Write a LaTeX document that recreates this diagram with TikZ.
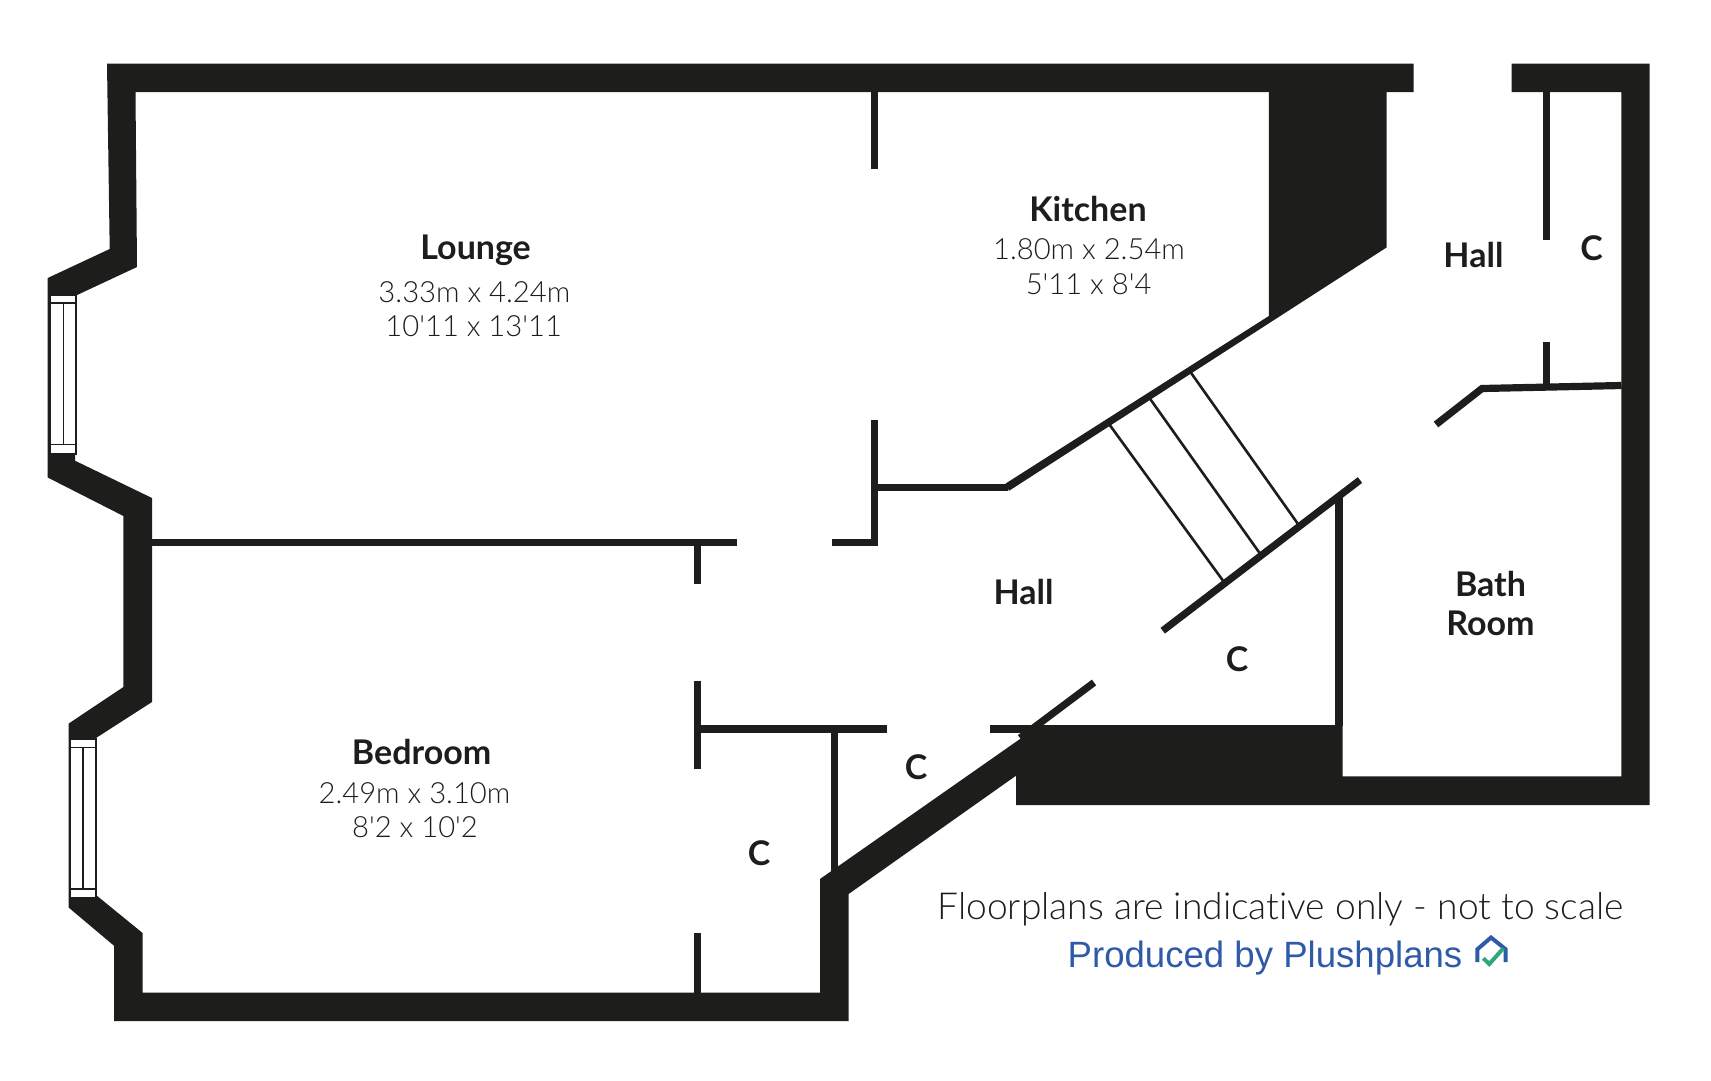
\documentclass[tikz,border=0pt]{standalone}
\usepackage{fontspec}
\setmainfont{Lato}
\newfontfamily\lightfont[Ligatures=NoCommon]{Lato Light}
\newfontfamily\logofont{Liberation Sans}
\definecolor{wallink}{HTML}{1D1D1B}
\definecolor{logoblue}{HTML}{2F5AA8}
\definecolor{logogreen}{HTML}{2FA67E}
\tikzset{
  roomname/.style={anchor=base,inner sep=0pt,yshift=-1.2pt,text=wallink,font=\bfseries\fontsize{34}{34}\selectfont},
  roomsize/.style={anchor=base,inner sep=0pt,yshift=-0.5pt,text=wallink,font=\lightfont\fontsize{29.2}{30}\selectfont},
  noteline/.style={anchor=base,inner sep=0pt,yshift=-1pt,text=wallink,font=\lightfont\fontsize{37.2}{38}\selectfont},
  logoline/.style={anchor=base,inner sep=0pt,yshift=-1pt,text=logoblue,font=\logofont\fontsize{36.6}{37}\selectfont},
  wallfill/.style={fill=wallink,draw=none},
  thinwall/.style={draw=wallink,line width=7.2pt,line join=miter},
  stairline/.style={draw=wallink,line width=2.6pt},
  winframe/.style={draw=wallink,fill=white,line width=1.9pt},
  winline/.style={draw=wallink,line width=1.9pt}
}
\begin{document}
\begin{tikzpicture}[x=1pt,y=-1pt]
  \useasboundingbox (0,0) rectangle (1711,1080);
  % outer walls
  \fill[wallfill] (1511.7,63.6) -- (1649.5,63.6) -- (1649.5,805) -- (1016,805) -- (1016,775.7)
    -- (848.6,894) -- (848.6,1021) -- (114,1021) -- (114,945.7) -- (68.6,907.5)
    -- (68.6,723.6) -- (123.4,687) -- (123.4,516) -- (47.7,477.5) -- (47.7,278)
    -- (109.7,249) -- (107,63.6) -- (1413.5,63.6) -- (1413.5,92) -- (135.5,92)
    -- (137,267) -- (75,296) -- (75,460.7) -- (152,498) -- (152,702) -- (96,738)
    -- (96,895) -- (142.6,933) -- (142.6,992.5) -- (820,992.5) -- (820,879)
    -- (1040,725) -- (1342.5,725) -- (1342.5,776.4) -- (1621.3,776.4) -- (1621.3,92)
    -- (1511.7,92) -- cycle;
  % chimney and the slanted wall under it
  \fill[wallfill] (1268.8,92) -- (1386.5,92) -- (1386.5,247.5) -- (1009,490.8)
    -- (1005.5,483.6) -- (1268.8,316) -- cycle;
  % thin walls
  \begin{scope}[-]
    \draw[thinwall] (874.8,92) -- (874.8,169);
    \draw[thinwall] (874.8,420) -- (874.8,542.3) -- (831.6,542.3);
    \draw[thinwall] (874.8,487.2) -- (1008,487.2);
    \draw[thinwall] (152,542.3) -- (736.7,542.3);
    \draw[thinwall] (697.5,542.3) -- (697.5,584.3);
    \draw[thinwall] (697.5,680.7) -- (697.5,769);
    \draw[thinwall] (697.5,932.5) -- (697.5,993);
    \draw[thinwall] (697.5,729) -- (886.8,729);
    \draw[thinwall] (990,729) -- (1035,729);
    \draw[thinwall] (834.3,729) -- (834.3,874);
    \draw[thinwall] (1094,682.5) -- (1020,738);
    \draw[thinwall] (1162.7,630.7) -- (1360,480);
    \draw[thinwall] (1338.9,496) -- (1338.9,726);
    \draw[thinwall] (1546.5,92) -- (1546.5,240);
    \draw[thinwall] (1546.5,342) -- (1546.5,388);
    \draw[thinwall] (1621.5,385.5) -- (1482,388.5) -- (1436,424.5);
  \end{scope}
  % stairs
  \begin{scope}[-]
    \draw[stairline] (1190,371.4) -- (1298.7,525);
    \draw[stairline] (1149.5,398) -- (1260,553.6);
    \draw[stairline] (1109,424) -- (1223,580.7);
  \end{scope}
  % windows
  \draw[winframe] (50.5,295) rectangle (76,454);
  \draw[winline] (50.5,302.7) -- (76,302.7);
  \draw[winline] (50.5,444.5) -- (76,444.5);
  \draw[winline] (63.5,302.7) -- (63.5,444.5);
  \draw[winframe] (70,739) rectangle (96,898);
  \draw[winline] (70,747.5) -- (96,747.5);
  \draw[winline] (70,889) -- (96,889);
  \draw[winline] (83,747.5) -- (83,889);
  % labels
  \draw
    (475.6,257.9) node[roomname] (lounge){Lounge}
    (474.4,302) node[roomsize] (loungem){3.33m x 4.24m}
    (473.7,336.4) node[roomsize] (loungeft){10'11 x 13'11}
    (1088,220.4) node[roomname] (kitchen){Kitchen}
    (1089,259) node[roomsize] (kitchenm){1.80m x 2.54m}
    (1088.6,293.6) node[roomsize] (kitchenft){5'11 x 8'4}
    (421.6,763.6) node[roomname] (bedroom){Bedroom}
    (414.5,803) node[roomsize] (bedroomm){2.49m x 3.10m}
    (415,837) node[roomsize] (bedroomft){8'2 x 10'2}
    (1473.4,266) node[roomname] (hallupper){Hall}
    (1023.6,603) node[roomname] (halllower){Hall}
    (1490.5,595) node[roomname] (bath){Bath}
    (1490.5,634) node[roomname] (room){Room}
    (1591.5,259) node[roomname] (cupper){C}
    (1237,670.7) node[roomname] (cstairs){C}
    (916,778) node[roomname] (chall){C}
    (759,864.6) node[roomname] (cbed){C}
    (1280.5,918) node[noteline] (note){Floorplans are indicative only - not to scale}
    (1265,966.4) node[logoline] (logotext){Produced by Plushplans};
  % logo
  \draw[logoblue,line width=4pt,line join=miter] (1477.3,962) -- (1477.3,949.3) -- (1491,937.5) -- (1505.7,949.3) -- (1505.7,962);
  \draw[logogreen,line width=4pt] (1483.3,958.3) -- (1489.3,964) -- (1503.3,948.3);
\end{tikzpicture}
\end{document}
